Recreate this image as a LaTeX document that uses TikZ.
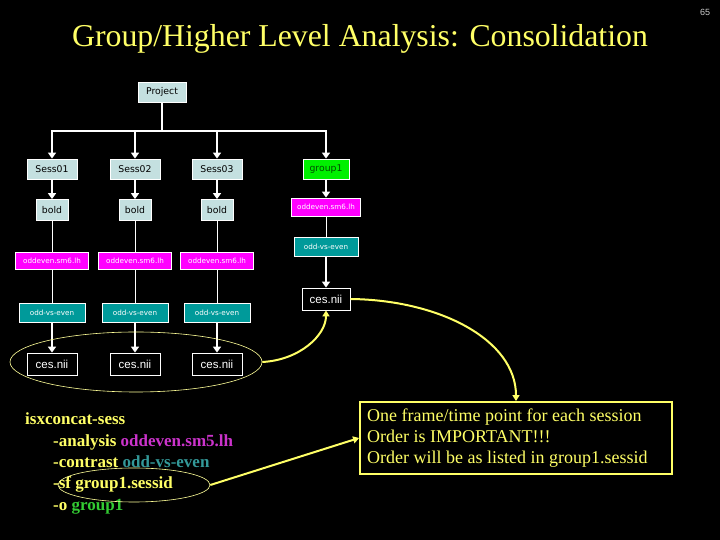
\documentclass[tikz,border=0pt]{standalone}
\usepackage{fontspec}
\setmainfont{Liberation Serif}
\newfontfamily\boxfont{DejaVu Sans}
\newfontfamily\plainsans{Liberation Sans}
\usetikzlibrary{arrows.meta,shapes.geometric}
\definecolor{boxblue}{HTML}{C4E0E0}
\definecolor{mag}{HTML}{FF00FF}
\definecolor{tealbox}{HTML}{009A9A}
\definecolor{grn}{HTML}{00F000}
\definecolor{yel}{HTML}{FFFF66}
\definecolor{paleyel}{HTML}{FFFF99}
\definecolor{cmdmag}{HTML}{CC33CC}
\definecolor{cmdteal}{HTML}{339999}
\definecolor{cmdgrn}{HTML}{33CC33}
\tikzset{
  base/.style={draw=white, line width=0.8pt, inner sep=0pt, align=center},
  lb/.style={base, fill=boxblue, text=black, font=\boxfont\fontsize{9.3}{11}\selectfont},
  mg/.style={base, fill=mag, text=white, font=\boxfont\fontsize{7.2}{8}\selectfont, minimum width=73pt, minimum height=17pt},
  tl/.style={base, fill=tealbox, text=white, font=\boxfont\fontsize{7.2}{8}\selectfont, minimum width=66pt, minimum height=19pt},
  cs/.style={base, fill=black, text=white, font=\plainsans\fontsize{11.5}{13}\selectfont, minimum width=50pt, minimum height=22pt},
  sessbox/.style={lb, minimum width=50pt, minimum height=20pt},
  boldbox/.style={lb, minimum width=32pt, minimum height=21pt},
  arr/.style={draw=white, line width=2.2pt, -{Triangle[width=8pt,length=6pt]}},
  thinln/.style={draw=white, line width=0.9pt},
  yarr/.style={draw=yel, line width=2pt, -{Triangle[width=7pt,length=6pt]}},
  ell/.style={draw=paleyel, line width=0.6pt},
  cmd/.style={anchor=base west, inner sep=0pt, text=yel, font=\bfseries\fontsize{17}{20}\selectfont},
}
\begin{document}
\begin{tikzpicture}[x=1pt,y=1pt]
\fill[black] (0,0) rectangle (720,540);
\useasboundingbox (0,0) rectangle (720,540);
% title
\node[text=yel, font=\fontsize{31.8}{36}\selectfont] (title) at (360,501) {Group/Higher Level Analysis: Consolidation};
\node[text=white!80!black, font=\plainsans\fontsize{9}{10}\selectfont] (pnum) at (705,528) {65};
% tree
\node[lb, minimum width=48pt, minimum height=20pt] (proj) at (162,448) {Project};
\coordinate (bar) at (0,409);
\node[sessbox] (s1) at (52,371) {Sess01};
\node[sessbox] (s2) at (135,371) {Sess02};
\node[sessbox] (s3) at (217,371) {Sess03};
\node[base, fill=grn, text=black!70!green, font=\boxfont\fontsize{9.3}{11}\selectfont, minimum width=46pt, minimum height=20pt] (g1) at (326,371) {group1};
\node[boldbox] (b1) at (52,330) {bold};
\node[boldbox] (b2) at (135,330) {bold};
\node[boldbox] (b3) at (217,330) {bold};
\node[mg] (o1) at (52,279) {oddeven.sm6.lh};
\node[mg] (o2) at (135,279) {oddeven.sm6.lh};
\node[mg] (o3) at (217,279) {oddeven.sm6.lh};
\node[mg, minimum width=69pt, minimum height=18pt] (og) at (326,333) {oddeven.sm6.lh};
\node[tl] (v1) at (52,227) {odd-vs-even};
\node[tl] (v2) at (135,227) {odd-vs-even};
\node[tl] (v3) at (217,227) {odd-vs-even};
\node[tl, minimum width=64pt] (vg) at (326,293) {odd-vs-even};
\node[cs] (c1) at (52,176) {ces.nii};
\node[cs] (c2) at (135,176) {ces.nii};
\node[cs] (c3) at (217,176) {ces.nii};
\node[cs, minimum width=48pt] (cg) at (326,241) {ces.nii};
% tree connectors
\draw[draw=white, line width=2.2pt] (proj.south) -- (proj.south |- bar);
\draw[draw=white, line width=2.2pt] ([xshift=-1.1pt]bar -| s1) -- ([xshift=1.1pt]bar -| g1);
\foreach \n in {s1,s2,s3,g1} \draw[arr] (bar -| \n) -- (\n.north);
\foreach \a/\b in {s1/b1,s2/b2,s3/b3,g1/og,v1/c1,v2/c2,v3/c3,vg/cg} \draw[arr] (\a.south) -- (\b.north);
\foreach \a/\b in {b1/o1,b2/o2,b3/o3,o1/v1,o2/v2,o3/v3,og/vg} \draw[thinln] (\a.south) -- (\b.north);
% ellipses
\node[ell, ellipse, minimum width=252pt, minimum height=60pt, inner sep=0pt] (bigell) at (136,178) {};
% command
\node[cmd] (cmd1) at (25,115) {isxconcat-sess};
\node[cmd] (cmd2) at (53,93) {-analysis \textcolor{cmdmag}{oddeven.sm5.lh}};
\node[cmd] (cmd3) at (53,72) {-contrast \textcolor{cmdteal}{odd-vs-even}};
\node[cmd] (cmd4) at (53,51) {-sf group1.sessid};
\node[cmd] (cmd5) at (53,29) {-o \textcolor{cmdgrn}{group1}};
\node[ell, ellipse, minimum width=152pt, minimum height=34pt, inner sep=0pt] (smell) at (134,55) {};
% note box
\node[draw=yel, line width=1.8pt, minimum width=312pt, minimum height=72pt, inner sep=0pt] (note) at (516,102) {};
\node[anchor=north west, text=yel, align=left, font=\fontsize{18}{21}\selectfont, inner sep=0pt] (notetxt) at (367,131.5)
  {One frame/time point for each session\\Order is IMPORTANT!!!\\Order will be as listed in group1.sessid};
% yellow connectors
\draw[yarr] (bigell.east) .. controls (300,180) and (326,205) .. (cg.south);
\draw[yarr] (cg.east) .. controls (440,240) and (516,200) .. (note.north);
\draw[yarr] (smell.east) -- (note.west);
\end{tikzpicture}
\end{document}
